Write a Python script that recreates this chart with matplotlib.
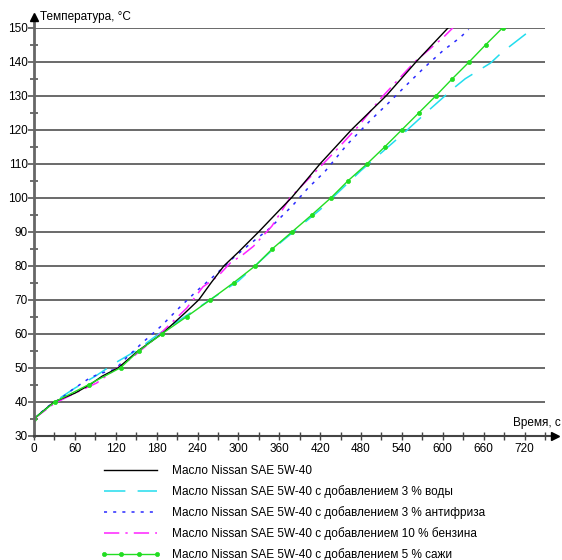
import matplotlib
matplotlib.use("Agg")
import matplotlib.pyplot as plt
from matplotlib.ticker import MultipleLocator

plt.rcParams['font.family'] = ['Liberation Sans', 'DejaVu Sans']

# --- data ---
base_t = [0, 30, 60, 82, 100, 124, 153, 188, 221, 242, 260, 279, 300, 330, 361, 378, 420, 466, 517, 561, 608]
base_T = [35, 40, 42.5, 45, 47.5, 50, 55, 60, 66, 70, 75, 80, 84, 90, 96.5, 100, 110, 120, 130, 140, 150]

water_t = [0, 30, 60, 90, 120, 150, 180, 240, 300, 360, 420, 480, 540, 581, 617, 633, 670, 686, 722]
water_T = [35, 40, 44, 47.5, 51.5, 55, 59.5, 67.5, 75.5, 86.5, 96.5, 108, 118.5, 126, 132.4, 135, 139.6, 142.6, 148.2]

anti_t = [0, 20, 43, 56, 82, 97, 119, 136, 160, 187, 214, 239, 266, 292, 317, 346, 380, 402, 427, 459, 495, 521, 546, 573, 600, 626, 638]
anti_T = [35, 38.5, 41.5, 43.5, 47, 48.3, 49.5, 53, 57.5, 62.3, 67.8, 72.6, 77.3, 82.2, 86.4, 91, 97.8, 102.8, 107.7, 115.5, 123, 128, 133, 138.3, 143.2, 147.2, 149.5]

gas_t = [0, 30, 60, 92, 111, 143, 180, 224, 248, 270, 288, 307, 322, 349, 376, 410, 439, 476, 508, 559, 600, 615]
gas_T = [35, 39.5, 42.5, 45.5, 48.3, 52.8, 59, 67.5, 73.8, 76.9, 80.8, 83.3, 85.7, 91.6, 100, 107, 113, 121, 129, 140, 147, 150]

soot_t = [0, 31, 80, 127, 154, 188, 224, 259, 293, 325, 350, 379, 408, 436, 461, 489, 515, 540, 565, 590, 614, 639, 663, 688]
soot_T = [35, 40, 45, 50, 55, 60, 65, 70, 75, 80, 85, 90, 95, 100, 105, 110, 115, 120, 125, 130, 135, 140, 145, 150]

labels = [
    "Масло Nissan SAE 5W-40",
    "Масло Nissan SAE 5W-40 с добавлением 3 % воды",
    "Масло Nissan SAE 5W-40 с добавлением 3 % антифриза",
    "Масло Nissan SAE 5W-40 с добавлением 10 % бензина",
    "Масло Nissan SAE 5W-40 с добавлением 5 % сажи",
]
x_label = "Время, с"
y_label = "Температура, °C"

fig = plt.figure(figsize=(5.62, 5.60), dpi=100)
W, H = 562, 560
ax = fig.add_axes([34 / W, 1 - 435.7 / H, 511 / W, 408 / H])
ax.set_xlim(0, 750)
ax.set_ylim(30, 150)

fs = 8.5
ax.plot(base_t, base_T, color='black', lw=1.0, label=labels[0], zorder=5)
ax.plot(water_t, water_T, color='#22ddee', lw=1.1, dashes=(14, 8), label=labels[1], zorder=4)
ax.plot(anti_t, anti_T, color='#2a2aff', lw=1.1, dashes=(2, 4), label=labels[2], zorder=4)
ax.plot(gas_t, gas_T, color='#ff22ff', lw=1.1, dashes=(10, 4, 1.5, 4), label=labels[3], zorder=4)
ax.plot(soot_t, soot_T, color='#22dd22', lw=1.0, marker='o', markersize=3.0,
        markeredgewidth=0.5, label=labels[4], zorder=6)

for s in ax.spines.values():
    s.set_visible(False)

# axes with arrows
ax.plot([0, 0], [30, 153], color='#666666', lw=2, clip_on=False, zorder=7)
ax.plot([0], [153.2], marker='^', color='black', markersize=6, clip_on=False, zorder=8)
ax.plot([0, 762], [30, 30], color='#444444', lw=1.5, clip_on=False, zorder=7)
ax.plot([764], [30], marker='>', color='black', markersize=6, clip_on=False, zorder=8)

ax.xaxis.set_major_locator(MultipleLocator(60))
ax.xaxis.set_minor_locator(MultipleLocator(30))
ax.yaxis.set_major_locator(MultipleLocator(10))
ax.yaxis.set_minor_locator(MultipleLocator(5))
ax.tick_params(axis='x', which='both', direction='inout', length=6, width=1, color='#444444',
               labelsize=fs, pad=2)
ax.tick_params(axis='y', which='major', direction='out', length=4, width=1.2, color='#555555',
               labelsize=fs, pad=0.5)
ax.tick_params(axis='y', which='minor', direction='inout', length=6, width=1.2, color='#555555')
ax.set_xticks(list(range(0, 721, 60)))
ax.set_xticks(list(range(30, 751, 60)), minor=True)

ax.yaxis.grid(True, which='major', color='#505050', lw=1.2)
ax.xaxis.grid(False)
ax.set_axisbelow(True)

fig.text(40 / W, 1 - 17 / H, y_label, fontsize=fs, ha='left', va='center')
fig.text(561 / W, 1 - 423 / H, x_label, fontsize=fs, ha='right', va='center')

fig.legend(loc='upper left', bbox_to_anchor=(100 / W, 1 - 465 / H), frameon=False,
           fontsize=fs, handlelength=5.1, handletextpad=1.0, labelspacing=0.68,
           borderpad=0, borderaxespad=0, numpoints=4)

fig.savefig("out.png", dpi=100)
